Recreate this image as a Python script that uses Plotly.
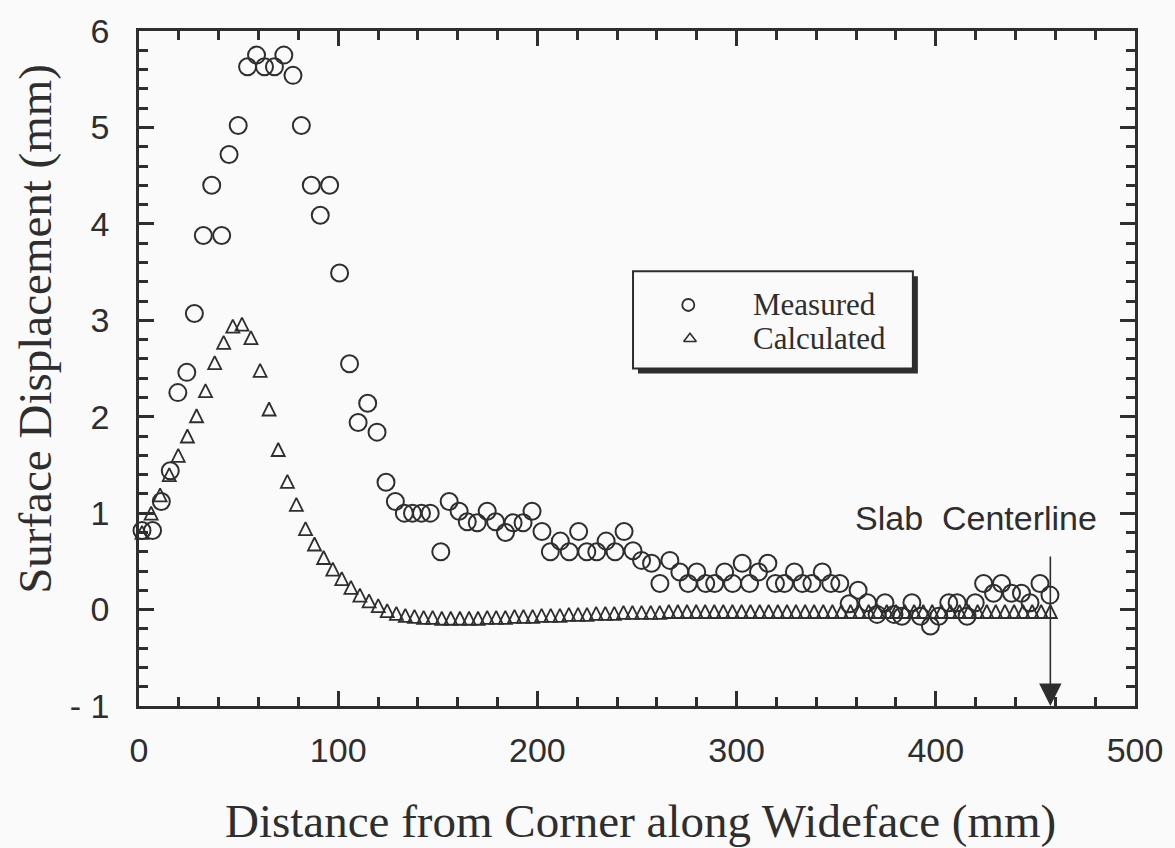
import plotly.graph_objects as go

# ---- data ----
x_measured = [1.5, 6.8, 11.2, 15.7, 19.5, 24.0, 27.8, 32.3, 36.5, 41.5, 45.2, 49.8, 54.5, 59.0, 63.0,
              68.0, 72.7, 77.3, 81.5, 86.5, 91.0, 95.7, 100.7, 105.7, 110.0, 114.8, 119.5, 124.0, 128.7,
              133.2, 137.3, 141.8, 146.2, 151.5, 155.7, 160.7, 164.8, 169.8, 174.8, 179.0, 184.0, 187.8,
              192.8, 197.3, 202.3, 206.5, 211.5, 216.0, 220.7, 224.8, 229.8, 234.5, 239.0, 243.5, 248.0,
              252.3, 257.3, 261.5, 266.5, 271.5, 275.7, 280.0, 284.5, 289.0, 294.0, 298.0, 302.8, 306.5,
              311.0, 315.7, 319.5, 324.0, 329.0, 333.0, 337.8, 343.0, 347.3, 351.8, 356.5, 361.0, 365.7,
              370.5, 374.5, 379.0, 383.0, 388.0, 392.3, 397.3, 401.5, 406.5, 410.7, 415.7, 419.8, 424.0,
              429.0, 433.0, 438.0, 443.0, 447.3, 452.3, 457.3]
y_measured = [0.82, 0.82, 1.12, 1.44, 2.25, 2.46, 3.07, 3.88, 4.40, 3.88,
              4.72, 5.02, 5.63, 5.75, 5.63, 5.63, 5.75, 5.54, 5.02, 4.40,
              4.09, 4.40, 3.49, 2.55, 1.94, 2.14, 1.84, 1.32, 1.12, 1.00,
              1.00, 1.00, 1.00, 0.60, 1.12, 1.02, 0.91, 0.90, 1.02, 0.91,
              0.80, 0.90, 0.90, 1.02, 0.81, 0.60, 0.71, 0.60, 0.81, 0.60,
              0.60, 0.71, 0.60, 0.81, 0.61, 0.51, 0.48, 0.27, 0.51, 0.39,
              0.27, 0.39, 0.27, 0.27, 0.39, 0.27, 0.48, 0.27, 0.39, 0.48,
              0.27, 0.27, 0.39, 0.27, 0.27, 0.39, 0.27, 0.27, 0.06, 0.20,
              0.07, -0.05, 0.07, -0.05, -0.07, 0.07, -0.07, -0.17, -0.07, 0.07,
              0.07, -0.07, 0.07, 0.27, 0.17, 0.27, 0.17, 0.17, 0.07, 0.27, 0.15]

x_calculated = [1.5, 6.1, 10.6, 15.2, 19.7, 24.3, 28.9, 33.4, 38.0, 42.5, 47.1, 51.7, 56.2, 60.8, 65.3,
                69.9, 74.5, 79.0, 83.6, 88.1, 92.7, 97.3, 101.8, 106.4, 110.9, 115.5, 120.1, 124.6,
                129.2, 133.7, 138.3, 142.9, 147.4, 152.0, 156.5, 161.1, 165.7, 170.2, 174.8, 179.3,
                183.9, 188.5, 193.0, 197.6, 202.1, 206.7, 211.3, 215.8, 220.4, 224.9, 229.5, 234.1,
                238.6, 243.2, 247.7, 252.3, 256.9, 261.4, 266.0, 270.5, 275.1, 279.7, 284.2, 288.8,
                293.3, 297.9, 302.5, 307.0, 311.6, 316.1, 320.7, 325.3, 329.8, 334.4, 338.9, 343.5,
                348.1, 352.6, 357.2, 361.7, 366.3, 370.9, 375.4, 380.0, 384.5, 389.1, 393.7, 398.2,
                402.8, 407.3, 411.9, 416.5, 421.0, 425.6, 430.1, 434.7, 439.3, 443.8, 448.4, 452.9, 457.5]
y_calculated = [0.80, 1.00, 1.19, 1.40, 1.60, 1.80, 2.01, 2.27, 2.56, 2.77,
                2.94, 2.96, 2.82, 2.48, 2.08, 1.66, 1.33, 1.09, 0.84, 0.68,
                0.54, 0.42, 0.32, 0.23, 0.15, 0.09, 0.04, -0.01, -0.04, -0.06,
                -0.07, -0.08, -0.08, -0.09, -0.09, -0.09, -0.09, -0.09, -0.08, -0.08,
                -0.08, -0.07, -0.07, -0.07, -0.06, -0.06, -0.06, -0.05, -0.05, -0.05,
                -0.04, -0.04, -0.04, -0.03, -0.03, -0.03, -0.03, -0.03, -0.02, -0.02,
                -0.02, -0.02, -0.02, -0.02, -0.02, -0.02, -0.02, -0.02, -0.02, -0.02,
                -0.02, -0.02, -0.02, -0.02, -0.02, -0.02, -0.02, -0.02, -0.02, -0.02,
                -0.02, -0.02, -0.02, -0.02, -0.02, -0.02, -0.02, -0.02, -0.02, -0.02,
                -0.02, -0.02, -0.02, -0.02, -0.02, -0.02, -0.02, -0.02, -0.02, -0.02, -0.02]

y_tickvals = [-1, 0, 1, 2, 3, 4, 5, 6]
y_ticktext = ["- 1", "0", "1", "2", "3", "4", "5", "6"]
x_tickvals = [0, 100, 200, 300, 400, 500]
x_ticktext = ["0", "100", "200", "300", "400", "500"]

series_names = ["Measured", "Calculated"]
x_title = "Distance from Corner along Wideface (mm)"
y_title = "Surface Displacement (mm)"
note_text = "Slab\u00a0\u00a0Centerline"

INK = "#2e2e2e"
BG = "#fafafa"
SERIF = "Liberation Serif, Times New Roman, serif"
SANS = "Liberation Sans, Arial, Helvetica, sans-serif"

fig = go.Figure()

fig.add_trace(go.Scatter(
    x=x_measured, y=y_measured, mode="markers", name=series_names[0],
    marker=dict(symbol="circle-open", size=17, color=INK, line=dict(width=2, color=INK)),
    showlegend=False, cliponaxis=False))
# upward triangle centred on the point (arrow-down rotated 180 deg, shifted by half its height)
fig.add_trace(go.Scatter(
    x=x_calculated, y=y_calculated, mode="markers", name=series_names[1],
    marker=dict(symbol="arrow-down-open", angle=180, size=13, standoff=6.5, color=INK,
                line=dict(width=1.8, color=INK)),
    showlegend=False, cliponaxis=False))

# legend glyphs on an invisible overlay axis (0..1 of the plot area)
fig.add_trace(go.Scatter(
    x=[0.5515], y=[0.5941], xaxis="x2", yaxis="y2", mode="markers", showlegend=False,
    marker=dict(symbol="circle-open", size=12, color=INK, line=dict(width=1.8, color=INK)),
    hoverinfo="skip", cliponaxis=False))
fig.add_trace(go.Scatter(
    x=[0.5532], y=[0.5441], xaxis="x2", yaxis="y2", mode="markers", showlegend=False,
    marker=dict(symbol="triangle-up-open", size=11, color=INK, line=dict(width=1.6, color=INK)),
    hoverinfo="skip", cliponaxis=False))

axis_common = dict(
    showline=True, linewidth=2.5, linecolor=INK, mirror="allticks",
    ticks="inside", ticklen=15, tickwidth=2.5, tickcolor=INK,
    showgrid=False, zeroline=False,
    tickfont=dict(family=SANS, size=34, color=INK),
)

fig.update_layout(
    width=1175, height=848,
    margin=dict(l=139, r=40, t=26, b=142),
    paper_bgcolor=BG, plot_bgcolor=BG,
    xaxis=dict(range=[0, 500], tickvals=x_tickvals, ticktext=x_ticktext,
               minor=dict(dtick=20, ticks="inside", ticklen=9, tickwidth=2.5, tickcolor=INK),
               ticklabelstandoff=12, **axis_common),
    yaxis=dict(range=[-1, 6], tickvals=y_tickvals, ticktext=y_ticktext,
               minor=dict(dtick=0.2, ticks="inside", ticklen=9, tickwidth=2.5, tickcolor=INK),
               ticklabelstandoff=20, **axis_common),
    xaxis2=dict(overlaying="x", range=[0, 1], visible=False),
    yaxis2=dict(overlaying="y", range=[0, 1], visible=False),
    showlegend=False,
)

# legend box with drop shadow
fig.add_shape(type="rect", xref="paper", yref="paper", x0=0.501, x1=0.782, y0=0.4926, y1=0.6368,
              fillcolor=INK, line=dict(width=0), layer="below")
fig.add_shape(type="rect", xref="paper", yref="paper", x0=0.496, x1=0.777, y0=0.500, y1=0.644,
              fillcolor=BG, line=dict(width=2, color=INK), layer="below")

fig.add_annotation(x=0.6141, y=0.5941, xref="paper", yref="paper", text=series_names[0],
                   showarrow=False, xanchor="left", yanchor="middle",
                   font=dict(family=SERIF, size=31, color=INK))
fig.add_annotation(x=0.6141, y=0.5441, xref="paper", yref="paper", text=series_names[1],
                   showarrow=False, xanchor="left", yanchor="middle",
                   font=dict(family=SERIF, size=31, color=INK))

# axis titles
fig.add_annotation(x=0.504, y=-0.1706, xref="paper", yref="paper", text=x_title,
                   showarrow=False, xanchor="center", yanchor="middle",
                   font=dict(family=SERIF, size=47, color=INK))
fig.add_annotation(x=-0.1044, y=0.5588, xref="paper", yref="paper", text=y_title,
                   textangle=-90, showarrow=False, xanchor="center", yanchor="middle",
                   font=dict(family=SERIF, size=47, color=INK))

# slab centerline note and arrow
fig.add_annotation(x=0.8404, y=0.2784, xref="paper", yref="paper", text=note_text,
                   showarrow=False, xanchor="center", yanchor="middle",
                   font=dict(family=SANS, size=34, color=INK))
fig.add_annotation(x=x_calculated[-1], y=-1, xref="x", yref="y", text="",
                   showarrow=True, ax=0, ay=-151, arrowhead=2, arrowsize=2.8,
                   arrowwidth=1.6, arrowcolor=INK, standoff=0)

fig.write_html("out.html")
